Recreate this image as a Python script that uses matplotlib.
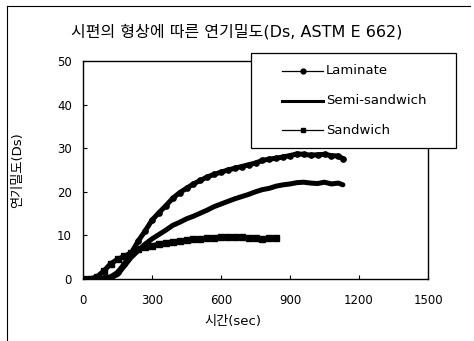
import matplotlib
matplotlib.use("Agg")
import matplotlib.pyplot as plt
from matplotlib.lines import Line2D
from matplotlib.patches import Rectangle

plt.rcParams['font.family'] = ['DejaVu Sans', 'Noto Sans CJK KR']

# 연기밀도 측정값 (30초 간격)
t_lam = [0, 30, 60, 90, 120, 150, 180, 210, 240, 270, 300, 330, 360, 390, 420,
         450, 480, 510, 540, 570, 600, 630, 660, 690, 720, 750, 780, 810, 840,
         870, 900, 930, 960, 990, 1020, 1050, 1080, 1110, 1130]
ds_lam = [0, 0, 0, 0.2, 0.5, 1.5, 3.5, 6, 8.7, 11, 13.5, 15.2, 16.8, 18.5, 19.8,
          20.8, 21.8, 22.6, 23.4, 24, 24.5, 25, 25.4, 25.8, 26.2, 26.6, 27.2,
          27.5, 27.7, 28, 28.3, 28.7, 28.6, 28.4, 28.5, 28.6, 28.3, 28.2, 27.6]

t_semi = t_lam
ds_semi = [0, 0, 0, 0, 0.3, 1, 3, 5, 6.5, 8, 9.2, 10.2, 11.2, 12.3, 13, 13.8,
           14.4, 15.1, 15.8, 16.6, 17.2, 17.8, 18.4, 18.9, 19.4, 20, 20.5, 20.8,
           21.3, 21.6, 21.8, 22.1, 22.2, 22, 21.9, 22.2, 21.8, 22, 21.6]

t_sand = [0, 30, 60, 90, 120, 150, 180, 210, 240, 270, 300, 330, 360, 390, 420,
          450, 480, 510, 540, 570, 600, 630, 660, 690, 720, 750, 780, 810, 840]
ds_sand = [0, 0, 0.5, 1.8, 3.5, 4.5, 5.2, 6, 6.8, 7.3, 7.6, 8, 8.3, 8.5, 8.7,
           8.9, 9.1, 9.2, 9.4, 9.5, 9.6, 9.7, 9.7, 9.6, 9.5, 9.3, 9.2, 9.3, 9.4]

labels = ['Laminate', 'Semi-sandwich', 'Sandwich']
x_ticks = [0, 300, 600, 900, 1200, 1500]
y_ticks = [0, 10, 20, 30, 40, 50]

W, H = 474, 341
fig = plt.figure(figsize=(W / 100, H / 100), dpi=100)
ax = fig.add_axes([83 / W, 1 - 279 / H, 345 / W, 218 / H])


def fx(px):
    return px / W


def fy(py):
    return 1 - py / H


ax.plot(t_lam, ds_lam, color='black', lw=3.6, marker='o', ms=3.8, solid_capstyle='round')
ax.plot(t_semi, ds_semi, color='black', lw=3.6, solid_capstyle='round')
ax.plot(t_sand, ds_sand, color='black', lw=3.6, marker='s', ms=4, solid_capstyle='round')

ax.set_xlim(0, 1500)
ax.set_ylim(0, 50)
ax.set_xticks(x_ticks)
ax.set_yticks(y_ticks)
ax.tick_params(direction='in', length=3, labelsize=8.5, width=0.8)
ax.tick_params(axis='x', pad=11)
ax.tick_params(axis='y', pad=8)
for s in ax.spines.values():
    s.set_linewidth(1.0)

ax.set_xlabel('시간(sec)', fontsize=9.5)
ax.xaxis.set_label_coords(0.435, -0.165)
ax.set_ylabel('연기밀도(Ds)', fontsize=9.5)
ax.yaxis.set_label_coords(-0.171, 0.5)

fig.text(0.5, fy(32), '시편의 형상에 따른 연기밀도(Ds, ASTM E 662)',
         ha='center', va='center', fontsize=11.5)

# 범례: 테두리 + 선 + 가운데 마커 + 글자
fig.add_artist(Rectangle((fx(251), fy(148)), fx(456) - fx(251), fy(53) - fy(148),
                         transform=fig.transFigure, facecolor='white',
                         edgecolor='black', lw=0.9, zorder=5))
styles = [('o', 3.5, 0.9), ('None', 0, 2.2), ('s', 3, 0.9)]
for i, (lab, (mk, ms, lw)) in enumerate(zip(labels, styles)):
    yy = fy(71 + 29.5 * i)
    fig.add_artist(Line2D([fx(282), fx(323)], [yy, yy], color='black', lw=lw,
                          transform=fig.transFigure, zorder=6))
    fig.add_artist(Line2D([fx(302.5)], [yy], color='black', lw=0, marker=mk, ms=ms,
                          transform=fig.transFigure, zorder=6))
    fig.text(fx(326), yy, lab, ha='left', va='center', fontsize=9.5, zorder=7)

# 그림 테두리 (위, 왼쪽)
fig.add_artist(Line2D([fx(7), fx(470)], [fy(6), fy(6)], color='black', lw=0.8))
fig.add_artist(Line2D([fx(7), fx(7)], [0.0, fy(6)], color='black', lw=0.8))

fig.savefig('out.png', dpi=100)
